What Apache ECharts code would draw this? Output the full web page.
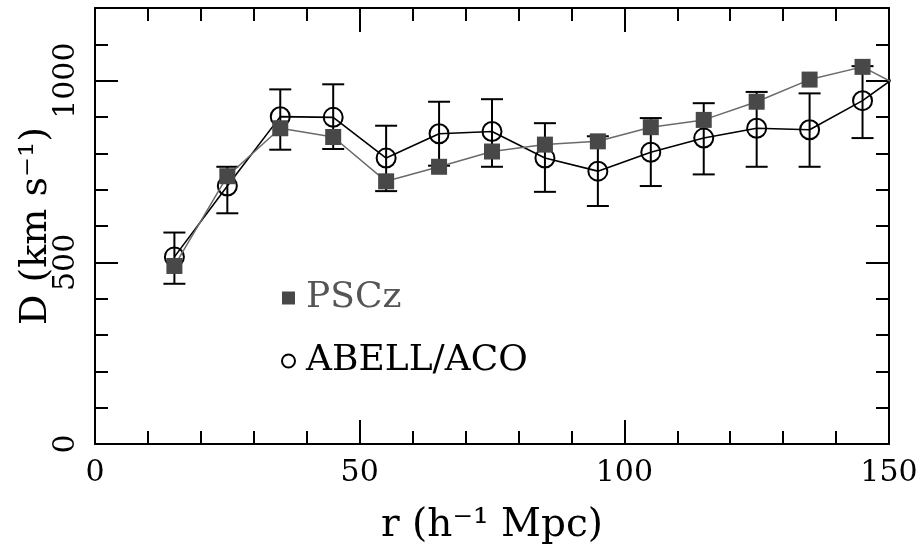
<!DOCTYPE html>
<html><head><meta charset="utf-8">
<script src="https://cdn.jsdelivr.net/npm/echarts@6/dist/echarts.min.js"></script>
<style>html,body{margin:0;padding:0;background:#fff}#c{width:922px;height:550px}</style>
</head><body><div id="c"></div>
<script>
// ---- data ----
const rValues   = [15, 25, 35, 45, 55, 65, 75, 85, 95, 105, 115, 125, 135, 145, 155];
const psczD     = [490, 737, 869, 845, 723, 763, 805, 824, 833, 872, 892, 942, 1003, 1038, 962];
const abellD    = [515, 710, 901, 899, 787, 854, 860, 787, 751, 803, 842, 869, 865, 945, 1049];
const errR      = [15, 25, 35, 45, 55, 65, 75, 85, 95, 105, 115, 125, 135, 145];
const abellLow  = [441, 635, 810, 812, 696, 766, 763, 694, 655, 710, 742, 763, 763, 842];
const abellHigh = [582, 763, 976, 990, 876, 942, 949, 883, 847, 897, 938, 969, 965, 1040];
const xTickLabels = [0, 50, 100, 150];
const yTickLabels = [0, 500, 1000];
const seriesNames = ['PSCz', 'ABELL/ACO'];
const xTitle = 'r (h⁻¹ Mpc)';
const yTitle = 'D (km s⁻¹)';

const FONT = 'DejaVu Serif';
const black = '#000';
const lineW = 2;

const psczData = rValues.map((r, i) => [r, psczD[i]]);
const abellData = rValues.map((r, i) => [r, abellD[i]]);
const errData = errR.map((r, i) => [r, abellLow[i], abellHigh[i]]);

function xAxisCfg(pos, showLabel, name) {
  return {
    type: 'value', position: pos, min: 0, max: 150, interval: 50,
    axisLine: { show: true, onZero: false, lineStyle: { color: black, width: lineW } },
    axisTick: { show: true, inside: true, length: 24, lineStyle: { color: black, width: lineW } },
    minorTick: { show: true, splitNumber: 5, length: 13, lineStyle: { color: black, width: lineW } },
    splitLine: { show: false },
    axisLabel: {
      show: showLabel, margin: 14, color: black, fontFamily: FONT, fontSize: 30,
      formatter: v => xTickLabels.includes(v) ? String(v) : ''
    },
    name: name || '', nameLocation: 'middle', nameGap: 62,
    nameTextStyle: { fontFamily: FONT, fontSize: 39, color: black }
  };
}
function yAxisCfg(pos, interval, tickLen, showLabel, showLine, name) {
  return {
    type: 'value', position: pos, min: 0, max: 1200, interval: interval,
    axisLine: { show: showLine, onZero: false, lineStyle: { color: black, width: lineW } },
    axisTick: { show: true, inside: true, length: tickLen, lineStyle: { color: black, width: lineW } },
    splitLine: { show: false },
    axisLabel: {
      show: showLabel, rotate: 90, margin: 14, color: black, fontFamily: FONT, fontSize: 30,
      formatter: v => yTickLabels.includes(v) ? String(v) : ''
    },
    name: name || '', nameLocation: 'middle', nameGap: 40,
    nameTextStyle: { fontFamily: FONT, fontSize: 38, color: black }
  };
}

const option = {
  animation: false,
  backgroundColor: '#fff',
  grid: { left: 95, right: 33, top: 8, bottom: 103, containLabel: false },
  xAxis: [
    xAxisCfg('bottom', true, xTitle),
    xAxisCfg('top', false)
  ],
  yAxis: [
    yAxisCfg('left', 100, 13, false, true, yTitle),
    yAxisCfg('left', 500, 23, true, false),
    yAxisCfg('right', 100, 13, false, true),
    yAxisCfg('right', 500, 23, false, false)
  ],
  legend: {
    orient: 'vertical', left: 276, top: 275, itemWidth: 13, itemHeight: 13, itemGap: 27,
    selectedMode: false,
    textStyle: { fontFamily: FONT, fontSize: 36, padding: [0, 0, 0, 6] },
    data: [
      { name: seriesNames[0], icon: 'rect', itemStyle: { color: '#484848', borderWidth: 0 }, textStyle: { color: '#555' } },
      { name: seriesNames[1], icon: 'circle', itemStyle: { color: '#fff', borderColor: black, borderWidth: 2 }, textStyle: { color: black } }
    ]
  },
  series: [
    {
      type: 'custom', name: 'errors', xAxisIndex: 0, yAxisIndex: 0, clip: true, z: 1,
      encode: { x: 0, y: [1, 2] },
      data: errData,
      renderItem: function (params, api) {
        const x = api.value(0);
        const p1 = api.coord([x, api.value(1)]);
        const p2 = api.coord([x, api.value(2)]);
        const hw = 11;
        const st = { stroke: black, lineWidth: 2 };
        return {
          type: 'group', children: [
            { type: 'line', shape: { x1: p1[0], y1: p1[1], x2: p2[0], y2: p2[1] }, style: st },
            { type: 'line', shape: { x1: p1[0] - hw, y1: p1[1], x2: p1[0] + hw, y2: p1[1] }, style: st },
            { type: 'line', shape: { x1: p2[0] - hw, y1: p2[1], x2: p2[0] + hw, y2: p2[1] }, style: st }
          ]
        };
      }
    },
    {
      type: 'line', name: seriesNames[1], xAxisIndex: 0, yAxisIndex: 0, data: abellData, clip: true, z: 2,
      symbol: 'circle', symbolSize: 19, showAllSymbol: true,
      lineStyle: { color: black, width: 1.6 },
      itemStyle: { color: 'rgba(0,0,0,0)', borderColor: black, borderWidth: 2 }
    },
    {
      type: 'line', name: seriesNames[0], xAxisIndex: 0, yAxisIndex: 0, data: psczData, clip: true, z: 3,
      symbol: 'rect', symbolSize: 16, showAllSymbol: true,
      lineStyle: { color: '#6a6a6a', width: 1.5 },
      itemStyle: { color: '#484848' }
    }
  ]
};
const chart = echarts.init(document.getElementById('c'), null, { renderer: 'canvas' });
chart.setOption(option);
</script></body></html>
